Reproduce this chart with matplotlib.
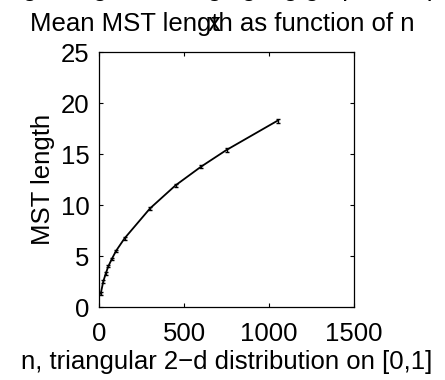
import numpy as np
import matplotlib
matplotlib.use("Agg")
import matplotlib.pyplot as plt

plt.rcParams['font.family'] = ['Liberation Sans', 'DejaVu Sans']

# number of points and the mean MST length
n_points = [10, 25, 40, 55, 75, 100, 150, 300, 450, 600, 750, 1050]
mst_mean = [1.3, 2.5, 3.3, 4.0, 4.7, 5.5, 6.73, 9.67, 11.93, 13.76, 15.4, 18.27]
mst_err = [0.15, 0.15, 0.12, 0.12, 0.12, 0.12, 0.12, 0.15, 0.15, 0.15, 0.15, 0.2]

x_ticks = [0, 500, 1000, 1500]
y_ticks = [0, 5, 10, 15, 20, 25]

fs = 18.5

fig = plt.figure(figsize=(4.45, 3.8), dpi=100)
ax = fig.add_axes([0.2225, 0.192, 0.573, 0.671])

ax.errorbar(n_points, mst_mean, yerr=mst_err, color='black', linewidth=1.3,
            elinewidth=1.0, capsize=1.5, capthick=1.0)

ax.set_xlim(0, 1500)
ax.set_ylim(0, 25)
ax.set_xticks(x_ticks)
ax.set_yticks(y_ticks)
ax.tick_params(direction='in', length=3, width=0.8, labelsize=fs,
               top=True, right=True)
ax.tick_params(axis='x', pad=11)
ax.tick_params(axis='y', pad=7)
for sp in ax.spines.values():
    sp.set_linewidth(0.9)

ax.set_xlabel("n, triangular 2\u2212d distribution on [0,1]", fontsize=fs, labelpad=3)
ax.set_ylabel("MST length", fontsize=fs, labelpad=4)

# title, with the clipped line above it and a stray "x"
fig.text(0.5, 0.918, "Mean MST length as function of n", fontsize=fs,
         ha='center', va='baseline')
fig.text(0.5, 1.011, "Average length, averaging big graph sample, p", fontsize=fs,
         ha='center', va='baseline')
fig.text(214 / 445, 0.918, "x", fontsize=fs, ha='center', va='baseline')

fig.savefig("out.png", dpi=100)
